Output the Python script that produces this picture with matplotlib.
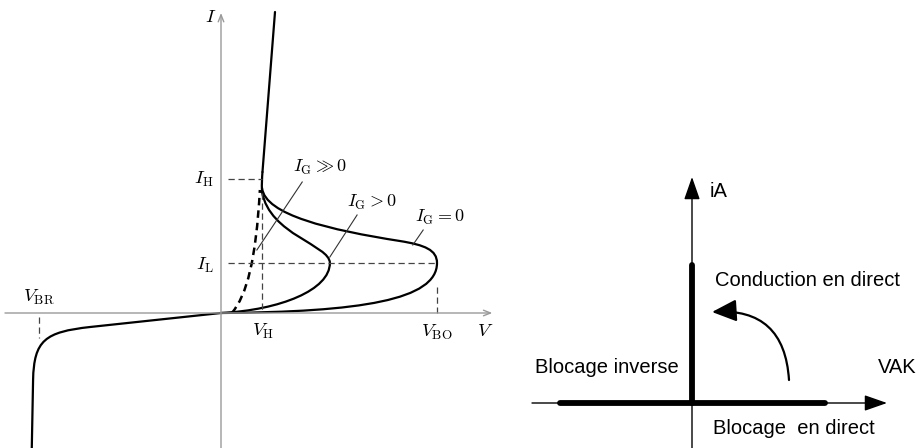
import matplotlib.pyplot as plt
from matplotlib.path import Path
from matplotlib.patches import PathPatch, FancyArrowPatch

plt.rcParams['mathtext.fontset'] = 'cm'

# ---- left panel : thyristor I(V) characteristic (arbitrary units) ----
V_H, V_BO, V_BR = 0.95, 5.0, -4.21
I_H, I_L = 2.68, 1.0

# cubic Bezier chains (V, I): first point, then groups of 3 control points
ig0_pts = [(0, 0), (3.22, 0.02), (5.0, 0.26), (5.0, 1.0),
           (5.0, 1.26), (4.72, 1.36), (4.14, 1.44),
           (2.52, 1.66), (1.02, 1.96), (0.95, 2.5)]
igpos_pts = [(0, 0), (1.37, 0.06), (2.52, 0.46), (2.52, 1.0),
             (2.52, 1.36), (1.13, 1.56), (0.95, 2.42)]
igbig_pts = [(0.25, 0), (0.60, 0.36), (0.81, 1.06), (0.90, 2.46)]
on_pts = [(0.95, 2.42), (0.94, 2.6), (0.95, 2.7), (0.96, 2.82)]
on_top = [(0.96, 2.82), (1.25, 6.02)]
rev_pts = [(0, 0), (-3.03, -0.28),
           (-4.07, -0.38), (-4.33, -0.54), (-4.35, -1.34),
           (-4.38, -2.7)]
rev_codes = [Path.MOVETO, Path.LINETO,
             Path.CURVE4, Path.CURVE4, Path.CURVE4,
             Path.LINETO]

# ---- right panel : idealised characteristic ----
cond_top = 1.38
block_left, block_right = -1.32, 1.33
arc_start, arc_end = (0.97, 0.23), (0.20, 0.91)


def bezier(pts):
    codes = [Path.MOVETO] + [Path.CURVE4] * (len(pts) - 1)
    return Path(pts, codes)


fig = plt.figure(figsize=(9.22, 4.48), dpi=100)

# left axes, scaled so 1 V-unit = 43.2 px and 1 I-unit = 50 px
ax = fig.add_axes([0, 0, 495 / 922, 1])
ax.set_xlim(-221 / 43.2, (495 - 221) / 43.2)
ax.set_ylim((313 - 448) / 50, 313 / 50)
ax.axis('off')

gray = '#9a9a9a'
ax.annotate('', xy=(6.28, 0), xytext=(-5.0, 0),
            arrowprops=dict(arrowstyle='->,head_length=0.5,head_width=0.2',
                            color=gray, lw=1.0, shrinkA=0, shrinkB=0))
ax.annotate('', xy=(0, 6.0), xytext=(0, -2.7),
            arrowprops=dict(arrowstyle='->,head_length=0.5,head_width=0.2',
                            color=gray, lw=1.0, shrinkA=0, shrinkB=0))

dash = dict(color='#444444', lw=0.9, dashes=(5, 3))
ax.plot([0.16, V_H], [I_H, I_H], **dash)
ax.plot([0.16, V_BO], [I_L, I_L], **dash)
ax.plot([V_H, V_H], [2.4, 0], **dash)
ax.plot([V_BO, V_BO], [0.52, 0], **dash)
ax.plot([V_BR, V_BR], [-0.08, -0.5], **dash)

curve = dict(facecolor='none', edgecolor='black', lw=1.6, capstyle='round')
ax.add_patch(PathPatch(bezier(ig0_pts), **curve))
ax.add_patch(PathPatch(bezier(igpos_pts), **curve))
ax.add_patch(PathPatch(bezier(on_pts), **curve))
ax.plot(*zip(*on_top), color='black', lw=1.6, solid_capstyle='round')
ax.add_patch(PathPatch(Path(rev_pts, rev_codes), **curve))
ax.add_patch(PathPatch(bezier(igbig_pts), facecolor='none', edgecolor='black',
                       lw=1.8, linestyle=(0, (3, 2))))

# leader lines of the gate-current labels
lead = dict(color='#333333', lw=0.8)
ax.plot([1.88, 0.83], [2.62, 1.26], **lead)
ax.plot([3.15, 2.52], [1.96, 1.12], **lead)
ax.plot([4.68, 4.44], [1.66, 1.36], **lead)

fs = 13.5
ax.text(-0.23, 5.94, r'$I$', fontsize=fs, ha='center', va='center')
ax.text(-0.17, I_H, r'$I_{\mathrm{H}}$', fontsize=fs, ha='right', va='center')
ax.text(-0.17, I_L - 0.04, r'$I_{\mathrm{L}}$', fontsize=fs, ha='right', va='center')
ax.text(V_BR, 0.32, r'$V_{\mathrm{BR}}$', fontsize=fs, ha='center', va='center')
ax.text(V_H + 0.02, -0.36, r'$V_{\mathrm{H}}$', fontsize=fs, ha='center', va='center')
ax.text(V_BO, -0.38, r'$V_{\mathrm{BO}}$', fontsize=fs, ha='center', va='center')
ax.text(6.11, -0.34, r'$V$', fontsize=fs, ha='center', va='center')
ax.text(2.29, 2.92, r'$I_{\mathrm{G}} \gg 0$', fontsize=fs - 0.5, ha='center', va='center')
ax.text(3.5, 2.22, r'$I_{\mathrm{G}} > 0$', fontsize=fs - 0.5, ha='center', va='center')
ax.text(5.07, 1.92, r'$I_{\mathrm{G}} = 0$', fontsize=fs - 0.5, ha='center', va='center')

# right axes, 1 unit = 100 px, origin at the axes crossing
bx = fig.add_axes([500 / 922, 0, 422 / 922, 1])
bx.set_xlim(-1.92, 2.30)
bx.set_ylim(-0.45, 4.03)
bx.axis('off')

bx.annotate('', xy=(1.95, 0), xytext=(-1.6, 0),
            arrowprops=dict(arrowstyle='-|>,head_length=1.0,head_width=0.35',
                            color='black', lw=1.0, shrinkA=0, shrinkB=0,
                            mutation_scale=14))
bx.annotate('', xy=(0, 2.26), xytext=(0, -0.45),
            arrowprops=dict(arrowstyle='-|>,head_length=1.0,head_width=0.35',
                            color='black', lw=1.0, shrinkA=0, shrinkB=0,
                            mutation_scale=14))
bx.plot([0, 0], [0, cond_top], color='black', lw=4.2, solid_capstyle='round')
bx.plot([block_left, block_right], [0, 0], color='black', lw=4.2,
        solid_capstyle='round')
bx.add_patch(FancyArrowPatch(arc_start, arc_end,
                             connectionstyle='arc3,rad=0.5',
                             arrowstyle='-|>,head_length=1.0,head_width=0.45',
                             mutation_scale=15, color='black', lw=1.6,
                             shrinkA=0, shrinkB=0))

txt = dict(fontsize=14.5, family='Liberation Sans', va='center', ha='left')
bx.text(0.18, 2.12, 'iA', **txt)
bx.text(0.23, 1.23, 'Conduction en direct', **txt)
bx.text(-1.57, 0.36, 'Blocage inverse', **txt)
bx.text(1.86, 0.36, 'VAK', **txt)
bx.text(0.21, -0.25, 'Blocage  en direct', **txt)

fig.savefig('out.png', dpi=100)
